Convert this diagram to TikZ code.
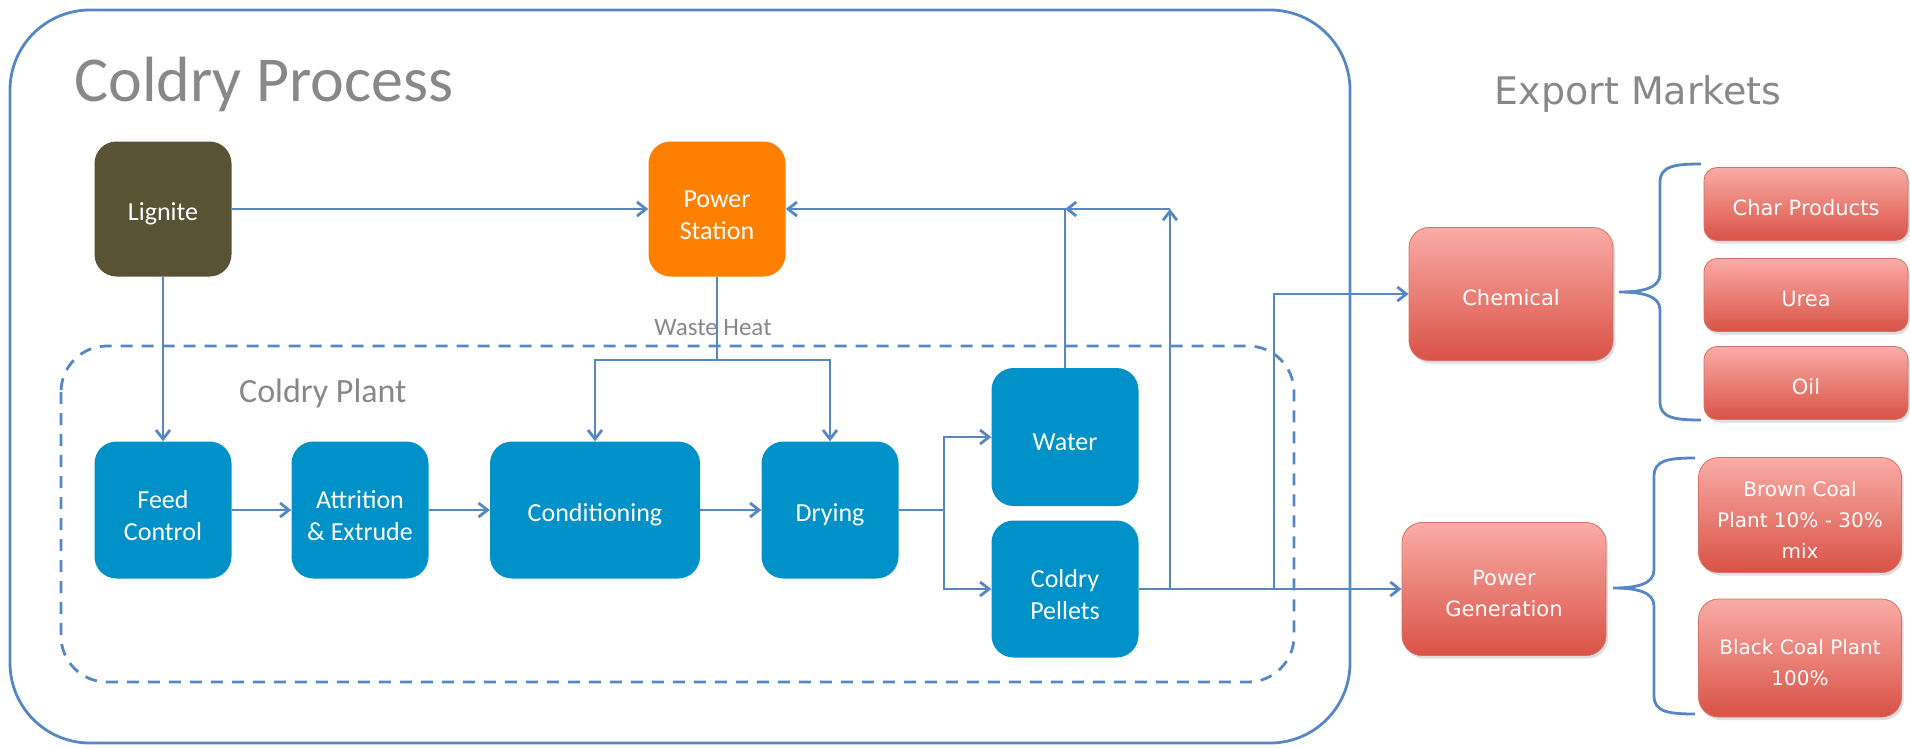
\documentclass[tikz,border=0pt]{standalone}
\usepackage{fontspec}
\setmainfont{Carlito}
\newfontfamily\marketfont{DejaVu Sans}
\usepackage{tikz}
\usetikzlibrary{arrows.meta, shadows, calc, positioning}
\definecolor{flowBlue}{RGB}{84,135,196}
\definecolor{plantBlue}{RGB}{0,145,200}
\definecolor{ligniteBrown}{RGB}{89,82,52}
\definecolor{stationOrange}{RGB}{255,127,0}
\definecolor{labelGray}{RGB}{136,136,136}
\definecolor{marketTop}{RGB}{250,172,166}
\definecolor{marketBottom}{RGB}{217,82,70}
\definecolor{marketEdge}{RGB}{212,112,102}
\tikzset{
    textDrop/.style={execute at begin node={\rule{0pt}{#1}}},
    procBox/.style={rectangle, rounded corners=22pt, fill=plantBlue, text=white, align=center, minimum width=137pt, minimum height=137pt, inner sep=0pt, font=\fontsize{26}{32}\selectfont, textDrop=28pt},
    twoLine/.style={textDrop=61pt},
    ligniteBox/.style={procBox, fill=ligniteBrown, minimum height=135pt},
    stationBox/.style={procBox, fill=stationOrange, minimum height=135pt},
    marketBox/.style={rectangle, rounded corners=20pt, top color=marketTop, bottom color=marketBottom, draw=marketEdge, line width=0.8pt, text=white, align=center, minimum width=204pt, minimum height=133pt, inner sep=0pt, font=\marketfont\fontsize{21}{31}\selectfont, drop shadow={shadow xshift=2pt, shadow yshift=-3pt, opacity=0.25}, textDrop=24pt},
    productBox/.style={marketBox, rounded corners=13pt, minimum height=73pt},
    coalBox/.style={marketBox, minimum width=203pt, font=\marketfont\fontsize{20}{31}\selectfont},
    flowEdge/.style={->, >={Straight Barb[length=9pt, width=14pt]}, line width=2.8pt, draw=flowBlue},
    frameLine/.style={line width=2.8pt, draw=flowBlue},
    braceLine/.style={line width=2.8pt, draw=flowBlue},
    titleText/.style={text=labelGray, inner sep=0pt},
}
\newcommand{\drawBrace}[4]{
    % #1,#2 = tip, #3 = top end, #4 = bottom end
    \draw[braceLine] (#1+82,#3) .. controls (#1+56,#3) and (#1+41,#3+2) .. (#1+41,#3+18)
        -- (#1+41,#2-18) .. controls (#1+41,#2-4) and (#1+24,#2) .. (#1,#2)
        .. controls (#1+24,#2) and (#1+41,#2+4) .. (#1+41,#2+18)
        -- (#1+41,#4-18) .. controls (#1+41,#4-2) and (#1+56,#4) .. (#1+82,#4);
}
\begin{document}
\begin{tikzpicture}[x=1pt, y=-1pt]
    \useasboundingbox (0,0) rectangle (1910,747);

    % frames
    \draw[frameLine, rounded corners=80pt] (10,10) rectangle (1350,743);
    \draw[frameLine, dash pattern=on 12pt off 9pt, rounded corners=46pt] (61,346) rectangle (1294,682);

    \node[titleText, anchor=base west, font=\fontsize{64}{64}\selectfont] (processTitle) at (74,101) {Coldry Process};
    \node[titleText, anchor=base west, font=\fontsize{34}{34}\selectfont] (plantTitle) at (239,402) {Coldry Plant};
    \node[titleText, anchor=base, font=\marketfont\fontsize{38}{38}\selectfont] (marketTitle) at (1638,104) {Export Markets};
    \node[titleText, anchor=base, font=\fontsize{25}{25}\selectfont] (heatLabel) at (713,335) {Waste Heat};

    \node[ligniteBox] (lignite) at (163,209) {Lignite};
    \node[stationBox, twoLine] (station) at (717,209) {Power\\Station};
    \node[procBox, twoLine] (feed) at (163,510) {Feed\\Control};
    \node[procBox, twoLine] (attrition) at (360,510) {Attrition\\\& Extrude};
    \node[procBox, minimum width=210pt] (conditioning) at (595,510) {Conditioning};
    \node[procBox] (drying) at (830,510) {Drying};
    \node[procBox, minimum width=147pt, minimum height=138pt] (water) at (1065,437) {Water};
    \node[procBox, twoLine, minimum width=147pt] (pellets) at (1065,589) {Coldry\\Pellets};

    \node[marketBox] (chemical) at (1511,294) {Chemical};
    \node[marketBox, textDrop=55pt] (powergen) at (1504,589) {Power\\Generation};
    \node[productBox] (charprod) at (1806,204) {Char Products};
    \node[productBox] (urea) at (1806,295) {Urea};
    \node[productBox] (oil) at (1806,383) {Oil};
    \node[coalBox, textDrop=86pt, minimum height=115pt] (browncoal) at (1800,515) {Brown Coal\\Plant 10\% - 30\%\\mix};
    \node[coalBox, textDrop=55pt, minimum height=118pt] (blackcoal) at (1800,658) {Black Coal Plant\\100\%};

    \coordinate (heat) at (717,360);
    \coordinate (split) at (944,510);
    \coordinate (returnFork) at (1170,589);
    \coordinate (returnTop) at (1170,209);
    \coordinate (chemFork) at (1274,589);

    \draw[flowEdge] (lignite) -- (station);
    \draw[flowEdge] (lignite) -- (feed);
    \draw[flowEdge] (feed) -- (attrition);
    \draw[flowEdge] (attrition) -- (conditioning);
    \draw[flowEdge] (conditioning) -- (drying);
    \draw[flowEdge] (station) -- (heat) -| (conditioning);
    \draw[flowEdge] (heat) -| (drying);
    \draw[flowEdge] (drying) -- (split) |- (water);
    \draw[flowEdge] (split) |- (pellets);
    \draw[flowEdge] (pellets) -- (powergen);
    \draw[flowEdge] (water) |- (station);
    \draw[flowEdge] (returnFork) -- (returnTop);
    \draw[flowEdge] (returnTop) -- (water |- station);
    \draw[flowEdge] (chemFork) |- (chemical);

    \drawBrace{1619}{292}{164}{420}
    \drawBrace{1613}{588}{458}{714}

\end{tikzpicture}
\end{document}
